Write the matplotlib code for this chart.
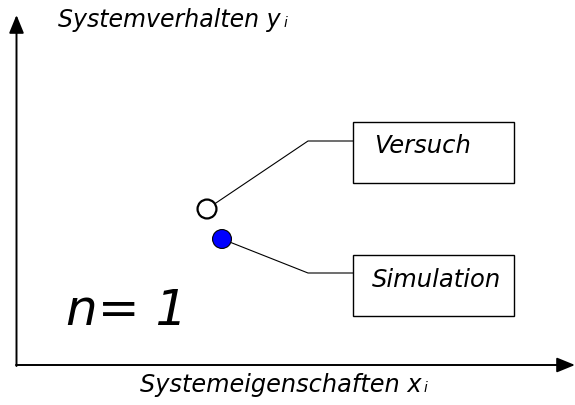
import matplotlib
matplotlib.use("Agg")
import matplotlib.pyplot as plt
from matplotlib.patches import Rectangle

# ---- data (in picture coordinates of the schematic) ----
series_names = ["Versuch", "Simulation"]
point_x = [207, 222]
point_y = [209, 239]
point_face = ["white", "#0000ff"]
point_edge_w = [1.6, 0.8]
box_left = [353, 353]
box_top = [122, 255]
box_w = [161, 161]
box_h = [61, 61]
elbow_x = [308, 308]
elbow_y = [141, 273]
label_x = [374, 372]
label_base = [153, 287]
y_label = "Systemverhalten y"
x_label = "Systemeigenschaften x"
sub = "i"
n_text = "n= 1"

plt.rcParams['font.family'] = ['DejaVu Sans']
fig = plt.figure(figsize=(5.75, 4.05), dpi=100)
ax = fig.add_axes([0, 0, 1, 1])
ax.set_xlim(0, 575)
ax.set_ylim(405, 0)
ax.axis('off')

arrow_style = '-|>,head_length=1.1,head_width=0.45'
ax.annotate('', xy=(16.5, 15), xytext=(16.5, 366),
            arrowprops=dict(arrowstyle=arrow_style, color='black', lw=1.4, shrinkA=0, shrinkB=0))
ax.annotate('', xy=(575, 365), xytext=(16, 365),
            arrowprops=dict(arrowstyle=arrow_style, color='black', lw=1.4, shrinkA=0, shrinkB=0))

ax.text(58, 27, y_label, fontsize=17, style='italic', va='baseline', ha='left')
ax.text(284, 27, sub, fontsize=10, style='italic', va='baseline', ha='left')
ax.text(140, 392, x_label, fontsize=17.3, style='italic', va='baseline', ha='left')
ax.text(424, 392, sub, fontsize=10, style='italic', va='baseline', ha='left')

for i in range(2):
    ax.plot([point_x[i], elbow_x[i], box_left[i]], [point_y[i], elbow_y[i], elbow_y[i]],
            color='black', lw=0.8, zorder=1)
    ax.add_patch(Rectangle((box_left[i], box_top[i]), box_w[i], box_h[i],
                           facecolor='white', edgecolor='black', lw=1.0, zorder=2))
    ax.text(label_x[i], label_base[i], series_names[i], fontsize=17.5,
            style='italic', va='baseline', ha='left', zorder=3)
ax.scatter(point_x, point_y, s=185, c=point_face, edgecolors='black',
           linewidths=point_edge_w, zorder=4)

ax.text(66, 325, n_text, fontsize=36, style='italic', va='baseline', ha='left')

fig.savefig('out.png', dpi=100)
